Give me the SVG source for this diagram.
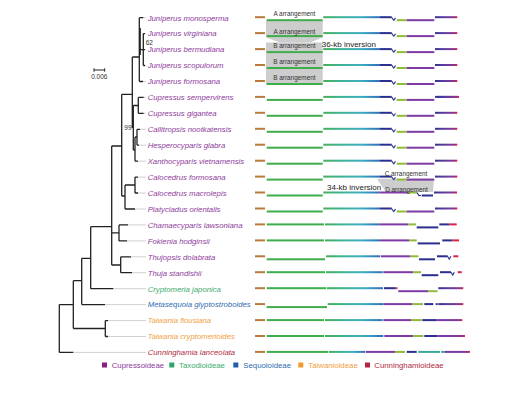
<svg xmlns="http://www.w3.org/2000/svg" xmlns:xlink="http://www.w3.org/1999/xlink" width="515" height="393" viewBox="0 0 515 393">
<style>
.sp{font-family:"Liberation Sans",Arial,sans-serif;font-style:italic;font-size:7.75px}
.cu{fill:#8e3a9c}.tx{fill:#3caa6c}.se{fill:#2f6cb0}.ta{fill:#f0a040}.cn{fill:#b02a42}
.lg{font-family:"Liberation Sans",Arial,sans-serif;font-size:7.8px}
.ar{font-family:"Liberation Sans",Arial,sans-serif;font-size:6.4px;fill:#333;text-anchor:middle}
.inv{font-family:"Liberation Sans",Arial,sans-serif;font-size:8px;fill:#222}
.bs{font-family:"Liberation Sans",Arial,sans-serif;font-size:6.5px;fill:#333}
.br{fill:#b97b3c}.gr{fill:#40ad4c}.te{fill:url(#gTe)}.db{fill:#2b2f8e}.yg{fill:#8fbb3a}.pu{fill:#7f3ba5}
.fin{fill:url(#gFin)}.fin2{fill:url(#gFin2)}.rd{fill:#d8234a}.tl{fill:#3aa89a}
.nt{fill:none;stroke:#2b2f8e;stroke-width:1.1}
.tree{fill:none;stroke:#222;stroke-width:1.3}
.ext{fill:none;stroke:#c4c4c4;stroke-width:0.8}
.shade{fill:#cdcdcd}
</style>
<defs>
<linearGradient id="gTe" x1="0" y1="0" x2="1" y2="0">
<stop offset="0" stop-color="#45af5a"/><stop offset="0.35" stop-color="#3cb39a"/><stop offset="0.65" stop-color="#3bafc0"/><stop offset="1" stop-color="#306fb8"/>
</linearGradient>
<linearGradient id="gFin" x1="0" y1="0" x2="1" y2="0">
<stop offset="0" stop-color="#2e3592"/><stop offset="0.35" stop-color="#5a3a9e"/><stop offset="0.8" stop-color="#7e3a9c"/><stop offset="0.92" stop-color="#b02a6a"/><stop offset="1" stop-color="#e0204a"/>
</linearGradient>
<linearGradient id="gFin2" x1="0" y1="0" x2="1" y2="0">
<stop offset="0" stop-color="#7a3aa8"/><stop offset="0.85" stop-color="#7e3a9c"/><stop offset="1" stop-color="#e0204a"/>
</linearGradient>
<g id="rA">
<rect class="br" x="255" y="-1.5" width="10" height="2"/>
<rect class="gr" x="266.7" y="1.5" width="56" height="2"/>
<rect class="te" x="323.3" y="-1.5" width="56.7" height="2"/>
<rect class="db" x="380" y="-1.5" width="11.7" height="2"/>
<polyline class="nt" points="391.5,-0.5 393.7,2.6 395.6,0.2"/>
<rect class="yg" x="396.7" y="1.5" width="10" height="2"/>
<rect class="pu" x="406.7" y="1.5" width="27.6" height="2"/>
<rect class="fin" x="435" y="-1.5" width="22.3" height="2"/>
</g>
</defs>

<g id="arrangements">
<polygon class="shade" points="266,20.5 322.7,20.5 322.7,37.6 310,42.5 280,42.5 266,37.6"/>
<rect class="shade" x="266" y="42.5" width="56.7" height="42"/>
<polygon class="shade" points="377,178.8 434,178.8 433,192 386,192"/>
</g>

<g id="connectors">
<path class="ext" d="M143.3,17.7H146M145,33.6H146M145,49.6H146M145,65.5H146M143,81.5H146M143.7,97.4H146M143.7,113.3H146M140,129.3H146M139,145.2H146M138,161.2H146M138,177.1H146M138,193H146M135,209H146M128,224.9H146M127,240.9H146M131,256.8H146M132,272.7H146M113.3,288.7H146M105,304.6H146M108,320.6H146M108,336.5H146M73.3,352.4H146"/>
<path class="tree" d="M139.3,17.7V81.5M140.2,28V55M139.3,17.7H143.3M139.3,81.5H143M140.2,49.6H143.3M143.3,33.6V65.5M143.3,33.6H145M143.3,49.6H145M143.3,65.5H145M132.3,57H139.3M132.3,57V128M121.7,94.3H132.3M133.3,105.5V150M133.3,105.5H138.3M138.3,97.4V113.3M138.3,97.4H143.7M138.3,113.3H143.7M133.3,150H135M135,137V161.2M135,137H137M137,129.3V145.2M137,129.3H140M137,145.2H139M135,161.2H138M121.7,94.3V196M111.7,146H121.7M121.7,196H125M125,185V209M125,185H135M135,177.1V193M135,177.1H138M135,193H138M125,209H135M111.7,146V265M111.7,232.9H119M119,224.9V240.9M119,224.9H128M119,240.9H127M111.7,265H120.7M120.7,256.8V272.7M120.7,256.8H131M120.7,272.7H132M90.7,226.7H111.7M90.7,226.7V288.7M90.7,288.7H113.3M81.7,258.3H90.7M81.7,258.3V304.6M81.7,304.6H105M73.3,280.7H81.7M73.3,280.7V328.5M73.3,328.5H105.3M105.3,320.6V336.5M105.3,320.6H108M105.3,336.5H108M59.3,304.6H73.3M59.3,304.6V352.4M59.3,352.4H73.3"/>
</g>

<g id="support">
<text class="bs" x="145.7" y="45">62</text>
<text class="bs" x="131.5" y="130.3" text-anchor="end">99</text>
<g id="scalebar">
<path fill="none" stroke="#222" stroke-width="1" d="M94,70H104.7M94,68.3V71.7M104.7,68.3V71.7"/>
<text class="bs" x="99.3" y="79.2" text-anchor="middle">0.006</text>
</g>
</g>

<g id="n-jmonosperma"><use xlink:href="#rA" y="17.7"/><text class="sp cu" x="147.7" y="20.5">Juniperus monosperma</text></g>
<g id="n-jvirginiana"><use xlink:href="#rA" y="33.6"/><text class="sp cu" x="147.7" y="36.4">Juniperus virginiana</text></g>
<g id="n-jbermudiana"><use xlink:href="#rA" y="49.6"/><text class="sp cu" x="147.7" y="52.4">Juniperus bermudiana</text></g>
<g id="n-jscopulorum"><use xlink:href="#rA" y="65.5"/><text class="sp cu" x="147.7" y="68.3">Juniperus scopulorum</text></g>
<g id="n-jformosana"><use xlink:href="#rA" y="81.5"/><text class="sp cu" x="147.7" y="84.3">Juniperus formosana</text></g>
<g id="n-csempervirens"><use xlink:href="#rA" y="97.4"/><rect class="fin" x="437" y="95.9" width="22" height="2"/><text class="sp cu" x="147.7" y="100.2">Cupressus sempervirens</text></g>
<g id="n-cgigantea"><use xlink:href="#rA" y="113.3"/><text class="sp cu" x="147.7" y="116.1">Cupressus gigantea</text></g>
<g id="n-callitropsis"><use xlink:href="#rA" y="129.3"/><text class="sp cu" x="147.7" y="132.1">Callitropsis nootkatensis</text></g>
<g id="n-hesperocyparis"><use xlink:href="#rA" y="145.2"/><text class="sp cu" x="147.7" y="148">Hesperocyparis glabra</text></g>
<g id="n-xanthocyparis"><use xlink:href="#rA" y="161.2"/><text class="sp cu" x="147.7" y="164">Xanthocyparis vietnamensis</text></g>
<g id="n-cformosana"><use xlink:href="#rA" y="177.1"/><text class="sp cu" x="147.7" y="179.9">Calocedrus formosana</text></g>
<g id="n-cmacrolepis" transform="translate(0,193)">
<rect class="br" x="255" y="-1.5" width="10" height="2"/>
<rect class="gr" x="266.7" y="1.5" width="56" height="2"/>
<rect class="te" x="323.3" y="-1.5" width="56" height="2"/>
<rect class="pu" x="379.3" y="-1.5" width="28.7" height="2"/>
<rect class="yg" x="408" y="-1.5" width="9" height="2"/>
<polyline class="nt" points="417,-0.5 419,2.6 421,2.5"/>
<rect class="db" x="421.7" y="1.5" width="11.3" height="2"/>
<rect class="fin" x="434" y="-1.5" width="23" height="2"/>
<text class="sp cu" x="147.7" y="2.8">Calocedrus macrolepis</text>
</g>
<g id="n-platycladus"><use xlink:href="#rA" y="209"/><text class="sp cu" x="147.7" y="211.8">Platycladus orientalis</text></g>
<g id="n-chamaecyparis" transform="translate(0,224.9)">
<rect class="br" x="255" y="-1.5" width="10" height="2"/>
<rect class="gr" x="266.7" y="-1.5" width="57.3" height="2"/>
<rect class="te" x="325" y="-1.5" width="54.3" height="2"/>
<rect class="pu" x="379.3" y="-1.5" width="29" height="2"/>
<rect class="yg" x="408.3" y="-1.5" width="7.7" height="2"/>
<rect class="db" x="416.7" y="1.5" width="21.6" height="2"/>
<rect class="db" x="439.3" y="-1.5" width="10" height="2"/>
<rect class="rd" x="449.3" y="-1.5" width="7.4" height="2"/>
<text class="sp cu" x="147.7" y="2.8">Chamaecyparis lawsoniana</text>
</g>
<g id="n-fokienia" transform="translate(0,240.9)">
<rect class="br" x="255" y="-1.5" width="10" height="2"/>
<rect class="gr" x="266.7" y="-1.5" width="57.3" height="2"/>
<rect class="te" x="325" y="-1.5" width="55" height="2"/>
<rect class="pu" x="380" y="-1.5" width="29" height="2"/>
<rect class="yg" x="409" y="-1.5" width="7.7" height="2"/>
<rect class="db" x="417.7" y="1.5" width="22.3" height="2"/>
<rect class="db" x="442.3" y="-1.5" width="10" height="2"/>
<rect class="rd" x="452.3" y="-1.5" width="6.7" height="2"/>
<text class="sp cu" x="147.7" y="2.8">Fokienia hodginsii</text>
</g>
<g id="n-thujopsis" transform="translate(0,256.8)">
<rect class="br" x="255" y="-1.5" width="10" height="2"/>
<rect class="gr" x="266.7" y="1.5" width="58.3" height="2"/>
<rect class="te" x="326" y="-1.5" width="54" height="2"/>
<rect class="pu" x="380.7" y="-1.5" width="29.3" height="2"/>
<rect class="yg" x="410" y="-1.5" width="8.3" height="2"/>
<rect class="db" x="419" y="1.5" width="16" height="2"/>
<rect class="db" x="437" y="-1.5" width="10.7" height="2"/>
<polyline class="nt" points="447.5,-0.5 449.3,2.4 450.8,-0.5"/>
<rect class="rd" x="453.3" y="-1.5" width="5" height="2"/>
<text class="sp cu" x="147.7" y="2.8">Thujopsis dolabrata</text>
</g>
<g id="n-thuja" transform="translate(0,272.7)">
<rect class="br" x="255" y="-1.5" width="10" height="2"/>
<rect class="gr" x="266.7" y="-1.5" width="58.3" height="2"/>
<rect class="te" x="326" y="-1.5" width="56.7" height="2"/>
<rect class="pu" x="383.3" y="-1.5" width="30" height="2"/>
<rect class="yg" x="413.3" y="-1.5" width="7.7" height="2"/>
<rect class="db" x="421.7" y="1.5" width="16.6" height="2"/>
<rect class="db" x="440" y="-1.5" width="11" height="2"/>
<polyline class="nt" points="451,-0.5 452.8,2.4 454.3,-0.5"/>
<rect class="rd" x="457.7" y="-1.5" width="4" height="2"/>
<text class="sp cu" x="147.7" y="2.8">Thuja standishii</text>
</g>
<g id="n-cryptomeria" transform="translate(0,288.7)">
<rect class="br" x="255" y="-1.5" width="10" height="2"/>
<rect class="gr" x="266.7" y="-1.5" width="59.3" height="2"/>
<rect class="te" x="326.7" y="-1.5" width="56.3" height="2"/>
<rect class="db" x="384" y="-1.5" width="11.7" height="2"/>
<rect class="rd" x="395.7" y="-1.5" width="1.8" height="2"/>
<rect class="pu" x="398.3" y="1.5" width="30" height="2"/>
<rect class="yg" x="428.3" y="1.5" width="9.2" height="2"/>
<rect class="fin" x="438.3" y="-1.5" width="25" height="2"/>
<text class="sp tx" x="147.7" y="2.8">Cryptomeria japonica</text>
</g>
<g id="n-metasequoia" transform="translate(0,304.6)">
<rect class="br" x="255" y="-1.5" width="10" height="2"/>
<rect class="gr" x="266.7" y="1.5" width="60.3" height="2"/>
<rect class="te" x="327.7" y="-1.5" width="55.3" height="2"/>
<rect class="pu" x="383.3" y="-1.5" width="29" height="2"/>
<rect class="yg" x="412.3" y="-1.5" width="10.7" height="2"/>
<rect class="db" x="424.3" y="-1.5" width="9" height="2"/>
<rect class="db" x="435.7" y="-1.5" width="2" height="2"/>
<rect class="fin" x="438.3" y="-1.5" width="25" height="2"/>
<text class="sp se" x="147.7" y="2.8">Metasequoia glyptostroboides</text>
</g>
<g id="n-tflousiana" transform="translate(0,320.6)">
<rect class="br" x="255" y="-1.5" width="10" height="2"/>
<rect class="gr" x="266.7" y="-1.5" width="57.3" height="2"/>
<rect class="te" x="325" y="-1.5" width="57.5" height="2"/>
<rect class="pu" x="383.3" y="-1.5" width="27.7" height="2"/>
<rect class="yg" x="411" y="-1.5" width="10.7" height="2"/>
<rect class="db" x="422.3" y="-1.5" width="14.4" height="2"/>
<rect class="fin2" x="436.7" y="-1.5" width="25.6" height="2"/>
<text class="sp ta" x="147.7" y="2.8">Taiwania flousiana</text>
</g>
<g id="n-tcryptomerioides" transform="translate(0,336.5)">
<rect class="br" x="255" y="-1.5" width="10" height="2"/>
<rect class="gr" x="266.7" y="-1.5" width="57.3" height="2"/>
<rect class="te" x="325" y="-1.5" width="58.3" height="2"/>
<rect class="pu" x="384.3" y="-1.5" width="29" height="2"/>
<rect class="yg" x="413.3" y="-1.5" width="10" height="2"/>
<rect class="db" x="424.3" y="-1.5" width="13.4" height="2"/>
<rect class="fin2" x="437.7" y="-1.5" width="27.3" height="2"/>
<text class="sp ta" x="147.7" y="2.8">Taiwania cryptomerioides</text>
</g>
<g id="n-cunninghamia" transform="translate(0,352.4)">
<rect class="br" x="255" y="-1.5" width="10" height="2"/>
<rect class="gr" x="266.7" y="-1.5" width="61.6" height="2"/>
<rect class="te" x="329" y="-1.5" width="36" height="2"/>
<rect class="pu" x="365.7" y="-1.5" width="29.3" height="2"/>
<rect class="yg" x="395" y="-1.5" width="10" height="2"/>
<rect class="db" x="406.7" y="-1.5" width="10" height="2"/>
<rect class="tl" x="418.3" y="-1.5" width="21.7" height="2"/>
<rect class="tl" x="441" y="-1.5" width="4" height="2"/>
<rect class="fin2" x="445" y="-1.5" width="25" height="2"/>
<text class="sp cn" x="147.7" y="2.8">Cunninghamia lanceolata</text>
</g>

<g id="arrangement-labels">
<text class="ar" x="294.4" y="16.4">A arrangement</text>
<text class="ar" x="294.4" y="34">A arrangement</text>
<text class="ar" x="294.4" y="48">B arrangement</text>
<text class="ar" x="294.4" y="64">B arrangement</text>
<text class="ar" x="294.4" y="80">B arrangement</text>
<text class="inv" x="321.7" y="46.8">36-kb inversion</text>
<text class="ar" x="406" y="176.3">C arrangement</text>
<text class="ar" x="406.5" y="191.6">D arrangement</text>
<text class="inv" x="327" y="189.5">34-kb inversion</text>
</g>

<g id="legend">
<rect x="102" y="362.5" width="5" height="5" fill="#8b1f86"/><text class="lg cu" x="111.7" y="367.8">Cupressoideae</text>
<rect x="169.3" y="362.5" width="5" height="5" fill="#2ea56a"/><text class="lg tx" x="179" y="367.8">Taxodioideae</text>
<rect x="233.3" y="362.5" width="5" height="5" fill="#1f5fa8"/><text class="lg se" x="243.3" y="367.8">Sequoioideae</text>
<rect x="298.3" y="362.5" width="5" height="5" fill="#f39a2b"/><text class="lg ta" x="308.3" y="367.8">Taiwanioideae</text>
<rect x="365" y="362.5" width="5" height="5" fill="#b3263f"/><text class="lg cn" x="374.3" y="367.8">Cunninghamioideae</text>
</g>
</svg>
